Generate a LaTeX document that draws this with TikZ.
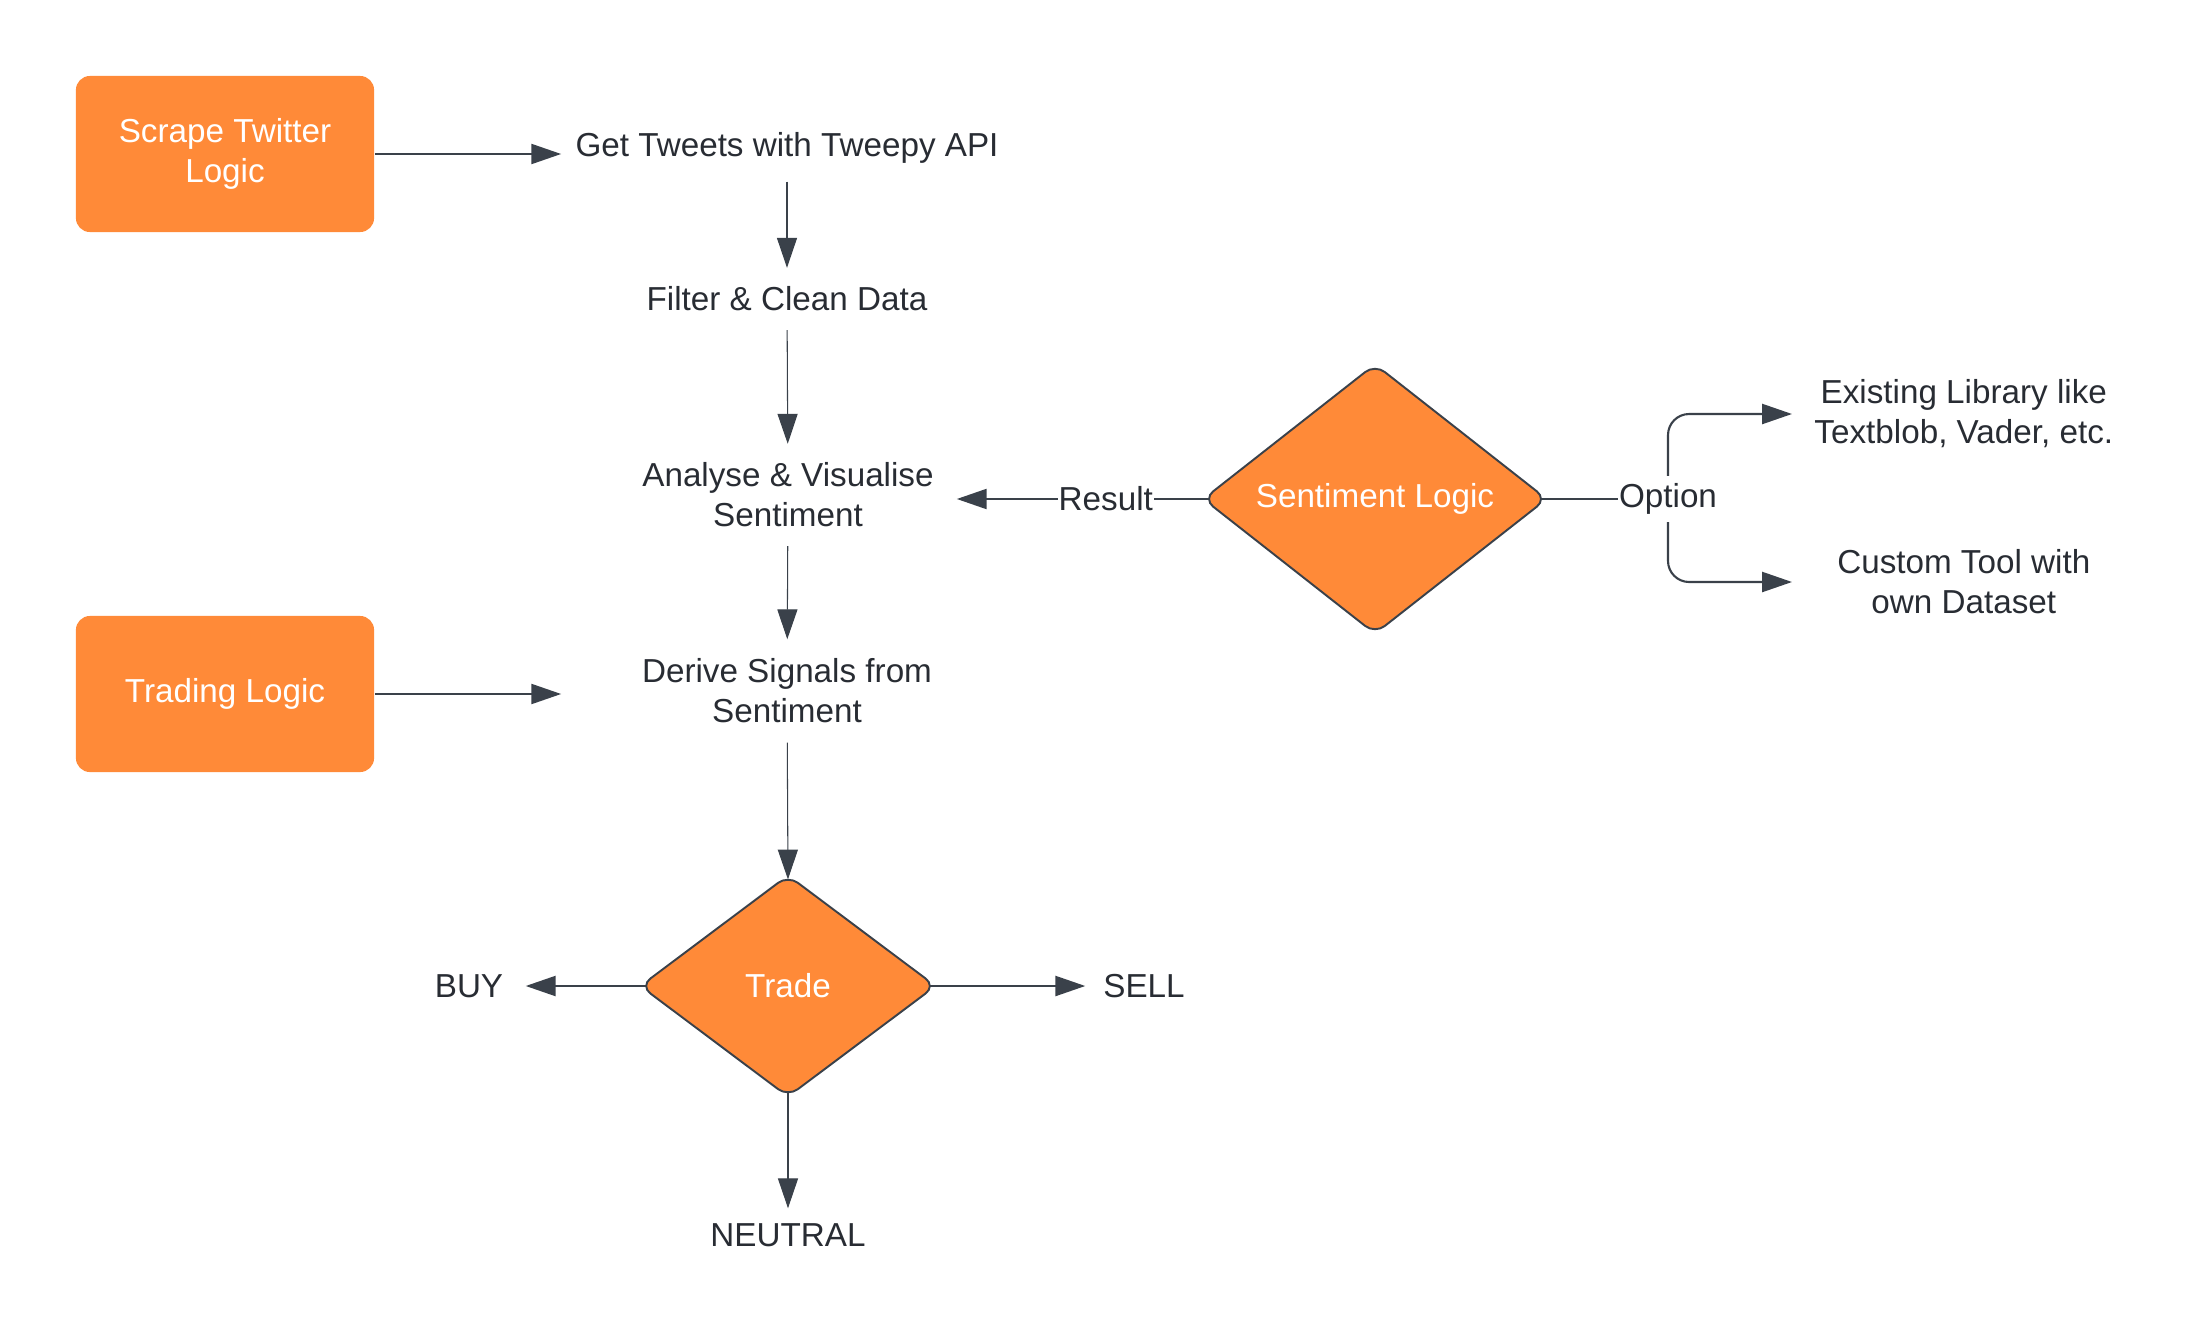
\documentclass[tikz,border=0pt]{standalone}
\usepackage{fontspec}
\setmainfont{Liberation Sans}
\usetikzlibrary{arrows.meta,shapes.geometric}
\definecolor{lorange}{RGB}{255,138,56}
\definecolor{ldark}{RGB}{58,65,74}
\definecolor{ltext}{RGB}{40,44,51}
\begin{document}
\begin{tikzpicture}[x=0.01cm,y=-0.01cm,
  basefont/.style={font=\fontsize{9.45}{11.4}\selectfont},
  txt/.style={basefont,text=ltext,align=center,inner sep=0pt},
  orangebox/.style={basefont,fill=lorange,rounded corners=4pt,text=white,align=center,
    minimum width=2.98cm,minimum height=1.56cm,inner sep=0pt},
  dia/.style={basefont,shape=diamond,fill=lorange,draw=ldark,line width=0.55pt,
    rounded corners=3.5pt,text=white,inner sep=0pt,outer sep=0pt},
  conn/.style={draw=ldark,line width=0.6pt,-{Triangle[length=8.5pt,width=5.7pt]}},
  vconn/.style={conn,line width=0.3pt},
  lbl/.style={basefont,text=ltext,fill=white,inner xsep=0.3pt,inner ysep=2pt}]
\useasboundingbox (0,0) rectangle (2196,1324);

% nodes
\node[orangebox] (scrape) at (225,154) {Scrape Twitter\\Logic};
\node[orangebox] (trading) at (225,694) {Trading Logic};
\node[txt,minimum width=4.5cm,minimum height=0.66cm] (tweets) at (787,148) {Get Tweets with Tweepy API};
\node[txt,minimum height=0.61cm] (filter) at (787,299) {Filter \& Clean Data};
\node[txt,minimum width=3.36cm,minimum height=1.01cm] (analyse) at (788,495) {Analyse \& Visualise\\Sentiment};
\node[txt,minimum width=4.5cm,minimum height=1.02cm] (derive) at (787,691) {Derive Signals from\\Sentiment};
\node[dia,minimum width=3.43cm,minimum height=2.6cm] (sent) at (1375,499) {Sentiment Logic};
\node[dia,minimum width=2.95cm,minimum height=2.21cm] (trade) at (788,986) {Trade};
\node[txt,minimum width=3.42cm,anchor=west] (exist) at (1792,414) {Existing Library like\\Textblob, Vader, etc.};
\node[txt,minimum width=3.42cm,anchor=west] (custom) at (1792,582) {Custom Tool with\\own Dataset};
\node[txt,minimum width=1.12cm] (buy) at (469,986) {BUY};
\node[txt,minimum width=1.16cm] (sell) at (1144,986) {SELL};
\node[txt,minimum height=0.52cm] (neutral) at (788,1235) {NEUTRAL};
\coordinate (branch) at (1668,499);

% connectors
\draw[conn] (scrape.east) -- (scrape.east -| tweets.west);
\draw[conn] (trading.east) -- (trading.east -| derive.west);
\draw[vconn] (tweets) -- (filter);
\draw[vconn] (filter) -- (analyse);
\draw[vconn] (analyse) -- (derive);
\draw[vconn] (derive) -- ([yshift=-0.04cm]trade.north);
\draw[conn] ([xshift=0.06cm]sent.west) -- (sent -| analyse.east) node[lbl,pos=0.41] {Result};
\draw[draw=ldark,line width=0.6pt] ([xshift=-0.06cm]sent.east) -- (branch);
\draw[conn,rounded corners=6pt] (branch) |- (exist.west);
\draw[conn,rounded corners=6pt] (branch) |- (custom.west);
\node[lbl] (opt) at (branch) {Option};
\draw[conn] ([xshift=0.06cm]trade.west) -- (trade -| buy.east);
\draw[conn] ([xshift=-0.06cm]trade.east) -- (trade -| sell.west);
\draw[vconn] ([yshift=0.04cm]trade.south) -- (neutral);
\end{tikzpicture}
\end{document}
